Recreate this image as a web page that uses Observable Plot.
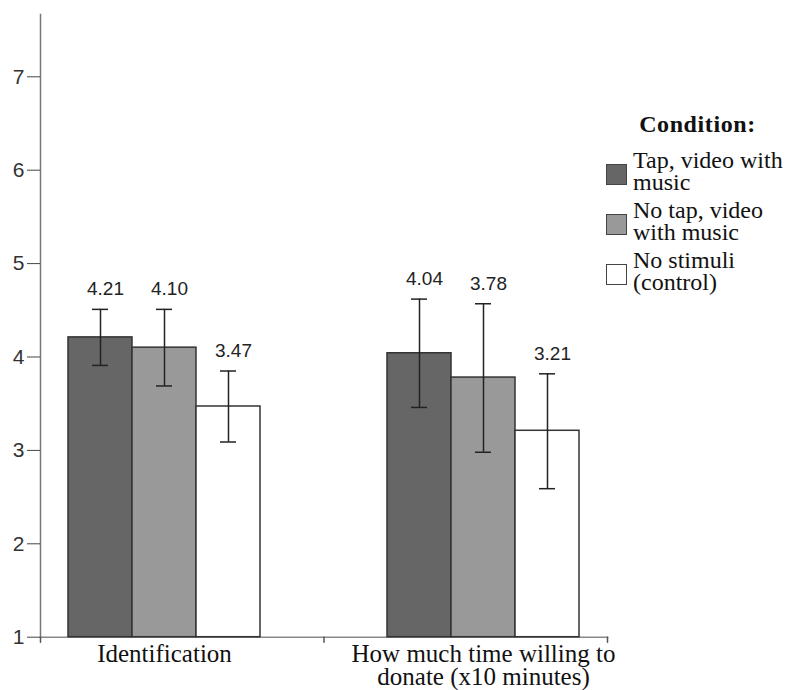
<!DOCTYPE html>
<html>
<head>
<meta charset="utf-8">
<script src="https://cdn.jsdelivr.net/npm/d3@7"></script>
<script src="https://cdn.jsdelivr.net/npm/@observablehq/plot@0.6"></script>
<style>
  body { margin: 0; background: #fff; }
  #wrap { position: relative; width: 790px; height: 690px; overflow: hidden; }
  #wrap svg { display: block; }
  #legend { position: absolute; left: 0; top: 0; width: 790px; height: 690px; pointer-events: none;
            font-family: "Liberation Serif", "Times New Roman", serif; color: #111; }
  #legend .title { position: absolute; left: 605px; width: 185px; top: 113px; text-align: center;
                   font-weight: bold; font-size: 24px; letter-spacing: 0.6px; line-height: 23px; }
  #legend .item { position: absolute; left: 606px; display: flex; align-items: center; }
  #legend .sw { width: 21px; height: 21px; box-sizing: border-box; border: 1.5px solid #444;
                margin-right: 6px; position: relative; top: 3px; }
  #legend .txt { font-size: 24px; line-height: 22.5px; white-space: nowrap; }
</style>
</head>
<body>
<div id="wrap"><div id="legend"></div></div>
<script>
// ---- data ----
const groups = ["Identification", "How much time willing to\ndonate (x10 minutes)"];
const conditions = ["Tap, video with music", "No tap, video with music", "No stimuli (control)"];
const legendTitle = "Condition:";
const legendLines = [["Tap, video with", "music"], ["No tap, video", "with music"], ["No stimuli", "(control)"]];
const meanIdentification = [4.21, 4.10, 3.47];
const lowIdentification  = [3.91, 3.69, 3.09];
const highIdentification = [4.51, 4.51, 3.85];
const meanDonate = [4.04, 3.78, 3.21];
const lowDonate  = [3.46, 2.98, 2.59];
const highDonate = [4.62, 4.57, 3.82];
const yTicks = [1, 2, 3, 4, 5, 6, 7];
const yDomain = [1, 7.667];
const baseline = 1;
const fills = ["#666666", "#999999", "#ffffff"];

// ---- table ----
const rows = [];
conditions.forEach((c, i) => {
  rows.push({group: groups[0], condition: c, mean: meanIdentification[i], low: lowIdentification[i], high: highIdentification[i]});
  rows.push({group: groups[1], condition: c, mean: meanDonate[i], low: lowDonate[i], high: highDonate[i]});
});

const tickShape = {draw(context, l) { context.moveTo(0, 0); context.lineTo(0, -l); }};
const axisTick = (anchor) => Plot.vector([0], {
  frameAnchor: anchor, facet: "super", length: 5, rotate: 180, anchor: "start",
  shape: tickShape, stroke: "#555", strokeWidth: 1.5
});

const plot = Plot.plot({
  width: 790,
  height: 690,
  marginTop: 14,
  marginBottom: 53.3,
  marginLeft: 40,
  marginRight: 183,
  style: {fontFamily: "'Liberation Sans', Arial, sans-serif", fontSize: "21px", color: "#333", background: "transparent"},
  fx: {domain: groups, paddingInner: 0.2226, paddingOuter: 0, round: false, axis: null, label: null},
  x: {domain: conditions, paddingInner: 0, paddingOuter: 0.4375, round: false, axis: null, label: null},
  y: {domain: yDomain, axis: null, label: null},
  color: {domain: conditions, range: fills},
  marks: [
    Plot.frame({anchor: "bottom", facet: "super", stroke: "#888", strokeWidth: 1.5}),
    Plot.frame({anchor: "left", facet: "super", stroke: "#777", strokeWidth: 1.5}),
    Plot.axisY({ticks: yTicks, tickSize: 13, tickPadding: 3, label: null,
                tickFormat: d3.format("d"), stroke: "#444", fill: "#333"}),
    Plot.barY(rows, {fx: "group", x: "condition", y1: baseline, y2: "mean", fill: "condition", stroke: "#333", strokeWidth: 1.5}),
    Plot.ruleX(rows, {fx: "group", x: "condition", y1: "low", y2: "high", stroke: "#222", strokeWidth: 1.5}),
    Plot.tickY(rows, {fx: "group", x: "condition", y: "high", insetLeft: 24, insetRight: 24, stroke: "#222", strokeWidth: 1.5}),
    Plot.tickY(rows, {fx: "group", x: "condition", y: "low", insetLeft: 24, insetRight: 24, stroke: "#222", strokeWidth: 1.5}),
    Plot.text(rows, {fx: "group", x: "condition", y: "high", text: d => d.mean.toFixed(2),
                     lineAnchor: "bottom", dy: -14, dx: 5, fontSize: 19, fill: "#222"}),
    Plot.text(groups, {fx: d => d, text: d => d, frameAnchor: "bottom", lineAnchor: "top", dy: 9,
                       lineHeight: 0.9, fontFamily: "'Liberation Serif', 'Times New Roman', serif",
                       fontSize: 25, fill: "#111"}),
    axisTick("bottom-left"),
    axisTick("bottom"),
    axisTick("bottom-right")
  ]
});
document.getElementById("wrap").insertBefore(plot, document.getElementById("legend"));

// ---- legend ----
const legend = document.getElementById("legend");
const title = document.createElement("div");
title.className = "title";
title.textContent = legendTitle;
legend.appendChild(title);
conditions.forEach((c, i) => {
  const item = document.createElement("div");
  item.className = "item";
  item.style.top = (148.7 + i * 50) + "px";
  const sw = document.createElement("div");
  sw.className = "sw";
  sw.style.background = fills[i];
  const txt = document.createElement("div");
  txt.className = "txt";
  txt.innerHTML = legendLines[i].join("<br>");
  item.appendChild(sw);
  item.appendChild(txt);
  legend.appendChild(item);
});
</script>
</body>
</html>
